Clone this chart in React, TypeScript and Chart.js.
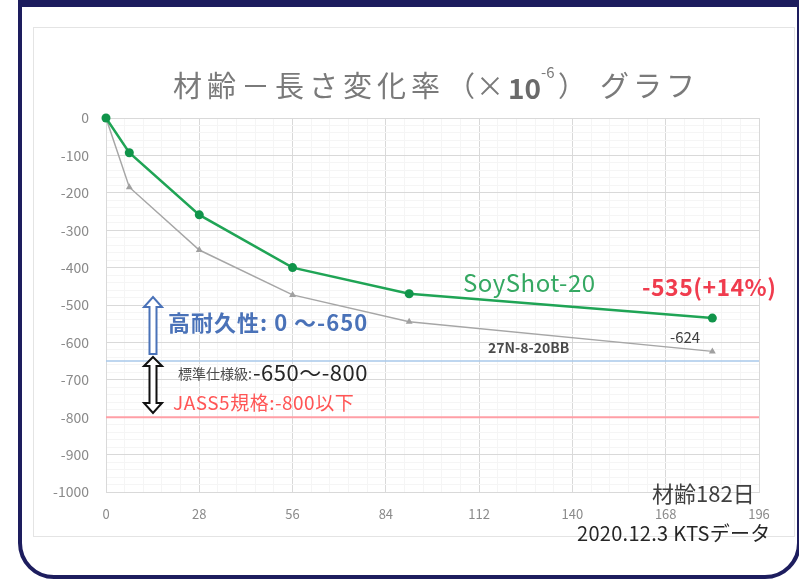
import React, { useEffect, useRef } from 'react';
import { Chart, registerables } from 'chart.js';

Chart.register(...registerables);

// ---- data ----
const ages = [0, 7, 28, 56, 91, 182];
const soyShotValues = [0, -93, -259, -400, -470, -535];
const ref27NValues = [0, -185, -353, -473, -545, -624];
const xTickLabels = [0, 28, 56, 84, 112, 140, 168, 196];
const yTickLabels = [0, -100, -200, -300, -400, -500, -600, -700, -800, -900, -1000];
const highDurabilityLimit = -650;
const jass5Limit = -800;

const JP = '"Noto Sans CJK JP", "Noto Sans", sans-serif';

function isMultiple(v: number, step: number) {
  return Math.abs(v / step - Math.round(v / step)) < 1e-6;
}

export default function App() {
  const ref = useRef<HTMLCanvasElement>(null);

  useEffect(() => {
    if (!ref.current) return;
    const xMax = xTickLabels[xTickLabels.length - 1];
    const xMajor = xTickLabels[1] - xTickLabels[0];
    const xMinorStep = xMajor / 5;
    const xTicks: number[] = [];
    for (let i = 0; i * xMinorStep <= xMax + 1e-6; i++) xTicks.push(i * xMinorStep);
    const yMin = yTickLabels[yTickLabels.length - 1];
    const yMajor = yTickLabels[0] - yTickLabels[1];
    const yMinorStep = yMajor / 5;
    const yTicks: number[] = [];
    for (let v = yMin; v <= 0; v += yMinorStep) yTicks.push(v);

    const annotations = {
      id: 'annotations',
      afterDraw(chart: any) {
        const ctx = chart.ctx as CanvasRenderingContext2D;
        const text = (
          t: string, x: number, y: number, font: string, color: string,
          baseline: CanvasTextBaseline = 'alphabetic', spacing = '0px'
        ) => {
          ctx.save();
          ctx.font = font;
          ctx.fillStyle = color;
          ctx.textAlign = 'left';
          ctx.textBaseline = baseline;
          (ctx as any).letterSpacing = spacing;
          ctx.fillText(t, x, y);
          const w = ctx.measureText(t).width;
          ctx.restore();
          return w;
        };
        // title
        const tc = '#7a7a7a';
        text('材齢－長さ変化率', 173, 86, `29px ${JP}`, tc, 'middle', '5px');
        text('（×', 447, 86, `28px ${JP}`, tc, 'middle', '1px');
        text('10', 508, 88, `bold 28px ${JP}`, '#6a6a6a', 'middle');
        text('-6', 541, 72, `15px ${JP}`, tc, 'middle');
        text('）', 558, 86, `28px ${JP}`, tc, 'middle');
        text('グラフ', 600, 86, `29px ${JP}`, tc, 'middle', '4px');

        // series labels
        text('SoyShot-20', 463, 292, `24px ${JP}`, '#35a862', 'alphabetic', '0.5px');
        text('-535(+14%)', 642, 296, `bold 23px ${JP}`, '#f03c4e', 'alphabetic', '0.5px');
        text('-624', 670, 343, `15px ${JP}`, '#404040');
        text('27N-8-20BB', 488, 353, `bold 14px ${JP}`, '#4a4a4a');

        // range labels
        text('高耐久性: 0 ～-650', 168, 323, `bold 22px ${JP}`, '#4a72b8', 'middle', '1px');
        const w1 = text('標準仕様級:', 178, 374, `14px ${JP}`, '#4a4a4a', 'middle');
        text('-650～-800', 178 + w1 + 1, 373, `22px ${JP}`, '#262626', 'middle', '0.5px');
        text('JASS5規格:-800以下', 173, 403, `19px ${JP}`, '#ff5555', 'middle', '0.5px');

        text('材齢182日', 652, 494, `22px ${JP}`, '#404040', 'middle');
        text('2020.12.3 KTSデータ', 577, 533, `20px ${JP}`, '#262626', 'middle', '0.3px');

        // arrows
        ctx.save();
        ctx.lineJoin = 'miter';
        // up arrow (blue)
        ctx.beginPath();
        ctx.moveTo(149.5, 354);
        ctx.lineTo(149.5, 307);
        ctx.lineTo(144, 307);
        ctx.lineTo(153, 297);
        ctx.lineTo(162, 307);
        ctx.lineTo(156.5, 307);
        ctx.lineTo(156.5, 354);
        ctx.closePath();
        ctx.fillStyle = '#ffffff';
        ctx.fill();
        ctx.strokeStyle = '#4a72b8';
        ctx.lineWidth = 2;
        ctx.stroke();
        // double arrow (black)
        ctx.beginPath();
        ctx.moveTo(153, 357);
        ctx.lineTo(162, 366);
        ctx.lineTo(156.5, 366);
        ctx.lineTo(156.5, 403);
        ctx.lineTo(162, 403);
        ctx.lineTo(153, 413);
        ctx.lineTo(144, 403);
        ctx.lineTo(149.5, 403);
        ctx.lineTo(149.5, 366);
        ctx.lineTo(144, 366);
        ctx.closePath();
        ctx.fillStyle = '#ffffff';
        ctx.fill();
        ctx.strokeStyle = '#111111';
        ctx.lineWidth = 2;
        ctx.stroke();
        ctx.restore();
      },
    };

    const pts = (vals: number[]) => ages.map((a, i) => ({ x: a, y: vals[i] }));

    const chart = new Chart(ref.current, {
      type: 'line',
      data: {
        datasets: [
          {
            label: 'SoyShot-20',
            data: pts(soyShotValues),
            borderColor: '#1fa455',
            backgroundColor: '#10944a',
            borderWidth: 2.5,
            pointRadius: 4.5,
            pointBorderWidth: 0,
            pointStyle: 'circle',
            clip: false as any,
          },
          {
            label: '27N-8-20BB',
            data: pts(ref27NValues),
            borderColor: '#a6a6a6',
            backgroundColor: '#a0a0a0',
            borderWidth: 1.5,
            pointRadius: 4,
            pointBorderWidth: 0,
            pointStyle: 'triangle',
            clip: false as any,
          },
          {
            label: 'high durability',
            data: [{ x: 0, y: highDurabilityLimit }, { x: xMax, y: highDurabilityLimit }],
            borderColor: '#a9c8ea',
            borderWidth: 1.5,
            pointRadius: 0,
          },
          {
            label: 'JASS5',
            data: [{ x: 0, y: jass5Limit }, { x: xMax, y: jass5Limit }],
            borderColor: '#ff9fa6',
            borderWidth: 2,
            pointRadius: 0,
          },
        ],
      },
      options: {
        responsive: false,
        animation: false,
        events: [],
        layout: { padding: { top: 118, right: 40, left: 0, bottom: 0 } },
        plugins: { legend: { display: false }, tooltip: { enabled: false }, title: { display: false } },
        scales: {
          x: {
            type: 'linear',
            min: 0,
            max: xMax,
            offset: false,
            afterBuildTicks: (scale: any) => {
              scale.ticks = xTicks.map((v) => ({ value: v }));
            },
            afterFit: (scale: any) => {
              scale.height = 90;
            },
            ticks: {
              autoSkip: false,
              maxRotation: 0,
              padding: 14,
              color: '#8a8a8a',
              font: { family: JP, size: 13 },
              callback: (v: any) => (isMultiple(Number(v), xMajor) ? String(Math.round(Number(v))) : ''),
            },
            grid: {
              drawTicks: false,
              color: (c: any) => (c.tick && isMultiple(c.tick.value, xMajor) ? '#d9d9d9' : '#f5f5f5'),
              lineWidth: 1,
            },
            border: { display: true, color: '#d9d9d9' },
          },
          y: {
            type: 'linear',
            min: yMin,
            max: 0,
            afterBuildTicks: (scale: any) => {
              scale.ticks = yTicks.map((v) => ({ value: v }));
            },
            afterFit: (scale: any) => {
              scale.width = 106;
            },
            ticks: {
              autoSkip: false,
              padding: 17,
              color: '#8a8a8a',
              font: { family: JP, size: 14 },
              callback: (v: any) => (isMultiple(Number(v), yMajor) ? String(Math.round(Number(v))) : ''),
            },
            grid: {
              drawTicks: false,
              color: (c: any) => (c.tick && isMultiple(c.tick.value, yMajor) ? '#d9d9d9' : '#f5f5f5'),
              lineWidth: 1,
            },
            border: { display: true, color: '#d9d9d9' },
          },
        },
      },
      plugins: [annotations],
    });
    return () => chart.destroy();
  }, []);

  return (
    <div style={{ position: 'fixed', left: 0, top: 0, width: 799, height: 582, background: '#ffffff', overflow: 'hidden' }}>
      <div
        style={{
          position: 'absolute', left: 18, top: -40, width: 783, height: 619, boxSizing: 'border-box',
          border: '4px solid #1d1d5e', borderRadius: '0 0 36px 36px',
        }}
      />
      <div style={{ position: 'absolute', left: 18, top: 0, width: 783, height: 7, background: '#1d1d5e' }} />
      <div
        style={{
          position: 'absolute', left: 33, top: 27, width: 762, height: 510, boxSizing: 'border-box',
          border: '1px solid #e4e4e4',
        }}
      />
      <canvas ref={ref} width={799} height={582} style={{ position: 'absolute', left: 0, top: 0, width: 799, height: 582 }} />
    </div>
  );
}
